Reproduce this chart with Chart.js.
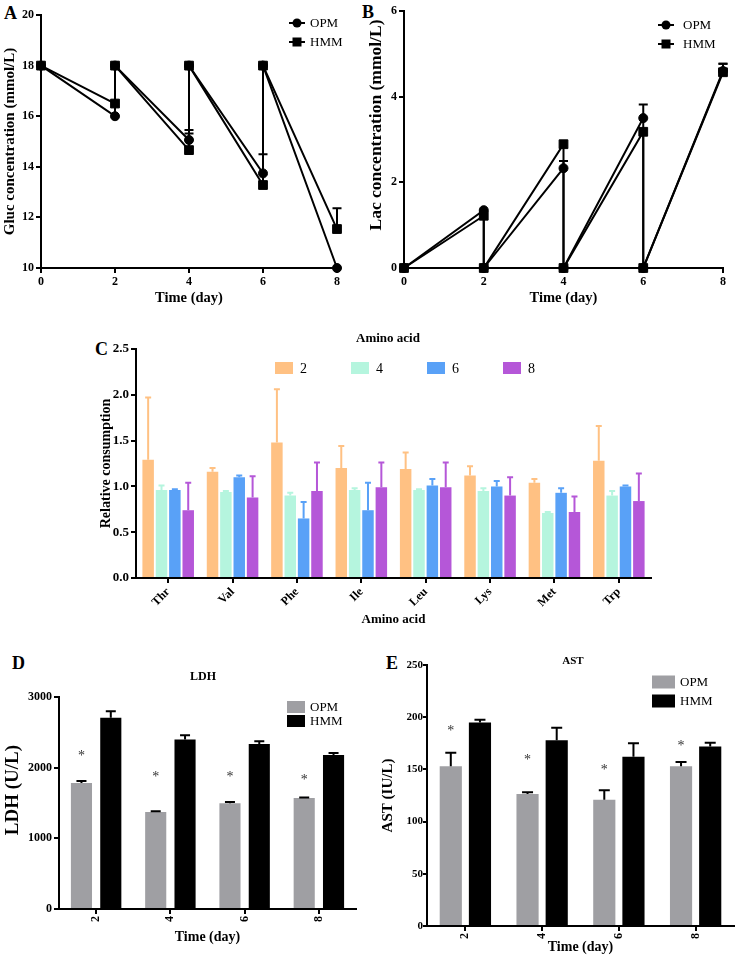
<!DOCTYPE html>
<html>
<head>
<meta charset="utf-8">
<script src="https://cdn.jsdelivr.net/npm/chart.js@4.4.0/dist/chart.umd.min.js"></script>
<style>
  body { margin: 0; background: #fff; width: 746px; height: 968px; position: relative; overflow: hidden; }
  canvas { position: absolute; }
  .tag { position: absolute; font: bold 18px "Liberation Serif", serif; line-height: 1; color: #000; }
</style>
</head>
<body>
<div class="tag" style="left:4px;top:4px">A</div>
<div class="tag" style="left:362px;top:3px">B</div>
<div class="tag" style="left:95px;top:340px">C</div>
<div class="tag" style="left:12px;top:654px">D</div>
<div class="tag" style="left:386px;top:654px">E</div>

<canvas id="chartA" width="373" height="310" style="left:0;top:0"></canvas>
<canvas id="chartB" width="381" height="310" style="left:365px;top:0"></canvas>
<canvas id="chartC" width="656" height="310" style="left:90px;top:320px"></canvas>
<canvas id="chartD" width="373" height="320" style="left:0;top:630px"></canvas>
<canvas id="chartE" width="373" height="338" style="left:373px;top:630px"></canvas>

<script>
// ---- data ----
// A / B: medium is replaced every 2 days, so each day appears twice
const days = [0, 2, 2, 4, 4, 6, 6, 8];
const glucOPM = [18, 16.0, 18, 15.06, 18, 13.74, 18, 10.0];
const glucHMM = [18, 16.5, 18, 14.66, 18, 13.28, 18, 11.54];
const glucOPMErr = [null, null, null, 0.39, null, 0.76, null, null];
const glucHMMErr = [null, null, null, 0.66, null, null, null, 0.82];

const lacOPM = [0, 1.35, 0, 2.33, 0, 3.5, 0, 4.6];
const lacHMM = [0, 1.22, 0, 2.89, 0, 3.18, 0, 4.57];
const lacOPMErr = [null, null, null, 0.17, null, 0.32, null, 0.17];
const lacHMMErr = [null, null, null, null, null, null, null, 0.2];

// C: amino acid consumption by day
const aminoAcids = ['Thr', 'Val', 'Phe', 'Ile', 'Leu', 'Lys', 'Met', 'Trp'];
const aaDays = ['2', '4', '6', '8'];
const aaDay2 = [1.29, 1.16, 1.48, 1.20, 1.19, 1.12, 1.04, 1.28];
const aaDay2Err = [0.68, 0.04, 0.58, 0.24, 0.18, 0.10, 0.04, 0.38];
const aaDay4 = [0.96, 0.94, 0.90, 0.96, 0.96, 0.95, 0.71, 0.90];
const aaDay4Err = [0.05, 0.01, 0.03, 0.02, 0.01, 0.03, 0.01, 0.05];
const aaDay6 = [0.96, 1.10, 0.65, 0.74, 1.01, 1.00, 0.93, 1.00];
const aaDay6Err = [0.01, 0.02, 0.18, 0.30, 0.07, 0.06, 0.05, 0.01];
const aaDay8 = [0.74, 0.88, 0.95, 0.99, 0.99, 0.90, 0.72, 0.84];
const aaDay8Err = [0.30, 0.23, 0.31, 0.27, 0.27, 0.20, 0.17, 0.30];

// D / E
const times = ['2', '4', '6', '8'];
const ldhOPM = [1782, 1372, 1495, 1570];
const ldhOPMErr = [30, 12, 20, 8];
const ldhHMM = [2705, 2400, 2335, 2180];
const ldhHMMErr = [95, 58, 40, 28];
const ldhStars = [2200, 1900, 1900, 1870];

const astOPM = [153, 126.5, 121, 153];
const astOPMErr = [13, 1.5, 9, 4];
const astHMM = [195, 178, 162, 172];
const astHMMErr = [2.5, 12, 13, 3.5];
const astStars = [189, 162, 152, 175];

// ---- colours ----
const gray = '#9f9fa3';
const aaColors = ['#ffc183', '#b5f5de', '#59a1f7', '#b557d8'];

Chart.defaults.font.family = '"Liberation Serif", serif';
Chart.defaults.color = '#000';

// ---- plugins ----
const errorBars = {
  id: 'errorBars',
  afterDatasetsDraw(chart, args, opts) {
    const ctx = chart.ctx;
    const yScale = chart.scales.y;
    chart.data.datasets.forEach((ds, i) => {
      if (!ds.errors) return;
      const meta = chart.getDatasetMeta(i);
      ctx.save();
      ctx.strokeStyle = ds.errorColor || ds.backgroundColor;
      ctx.lineWidth = opts.width || 2;
      meta.data.forEach((el, j) => {
        const err = ds.errors[j];
        if (err == null) return;
        const raw = ds.data[j];
        const v = typeof raw === 'object' ? raw.y : raw;
        const yTop = yScale.getPixelForValue(v + err);
        ctx.beginPath();
        ctx.moveTo(el.x, el.y);
        ctx.lineTo(el.x, yTop);
        ctx.moveTo(el.x - opts.cap / 2, yTop);
        ctx.lineTo(el.x + opts.cap / 2, yTop);
        ctx.stroke();
      });
      ctx.restore();
    });
  }
};

const stars = {
  id: 'stars',
  afterDatasetsDraw(chart) {
    const ctx = chart.ctx;
    chart.data.datasets.forEach((ds, i) => {
      if (!ds.stars) return;
      const meta = chart.getDatasetMeta(i);
      ctx.save();
      ctx.fillStyle = '#333';
      ctx.font = '14px "Liberation Serif"';
      ctx.textAlign = 'center';
      ctx.textBaseline = 'middle';
      meta.data.forEach((el, j) => {
        ctx.fillText('*', el.x, chart.scales.y.getPixelForValue(ds.stars[j]) + 3);
      });
      ctx.restore();
    });
  }
};

// free text: panel titles, and axis titles that sit off-centre in the original
const notes = {
  id: 'notes',
  afterDraw(chart, args, opts) {
    const ctx = chart.ctx;
    (opts.items || []).forEach(n => {
      ctx.save();
      ctx.fillStyle = '#000';
      ctx.textAlign = 'center';
      ctx.textBaseline = 'middle';
      ctx.font = 'bold ' + n.size + 'px "Liberation Serif"';
      ctx.translate(n.x, n.y);
      if (n.rot) ctx.rotate(n.rot * Math.PI / 180);
      ctx.fillText(n.text, 0, 0);
      ctx.restore();
    });
  }
};

const keyLegend = {
  id: 'keyLegend',
  afterDraw(chart, args, o) {
    const ctx = chart.ctx;
    ctx.save();
    chart.data.datasets.forEach((ds, i) => {
      const x = o.x + i * (o.dx || 0);
      const y = o.y + i * (o.dy || 0);
      if (o.kind === 'line') {
        ctx.strokeStyle = '#000';
        ctx.fillStyle = '#000';
        ctx.lineWidth = 2;
        ctx.beginPath();
        ctx.moveTo(x - 8, y);
        ctx.lineTo(x + 8, y);
        ctx.stroke();
        if (ds.pointStyle === 'rect') {
          ctx.fillRect(x - 4.5, y - 4.5, 9, 9);
        } else {
          ctx.beginPath();
          ctx.arc(x, y, 4.5, 0, Math.PI * 2);
          ctx.fill();
        }
      } else {
        ctx.fillStyle = ds.backgroundColor;
        ctx.fillRect(x, y - o.h / 2, o.w, o.h);
      }
      ctx.fillStyle = '#000';
      ctx.font = o.size + 'px "Liberation Serif"';
      ctx.textBaseline = 'middle';
      ctx.fillText(ds.label, x + o.tx, y + 1);
    });
    ctx.restore();
  }
};

// axis helper: black 2px axis lines with outside ticks, no grid
function makeAxis(o) {
  const ax = {
    afterFit: s => {
      if (o.width) s.width = o.width;
      if (o.height) s.height = o.height;
    },
    border: { color: '#000', width: 2 },
    grid: { drawOnChartArea: false, color: '#000', lineWidth: 2, tickLength: o.tl || 5, offset: false },
    ticks: {
      color: '#000', padding: o.pad == null ? 2 : o.pad, autoSkip: false,
      font: { size: o.fs || 12, weight: 'bold' },
      minRotation: o.rot || 0, maxRotation: o.rot || 0
    },
    title: {
      display: !!o.title, text: o.title || '', color: '#000',
      font: { size: o.tsize || 13, weight: 'bold' }, padding: o.tpad
    }
  };
  if (o.type) ax.type = o.type;
  if (o.min != null) { ax.min = o.min; ax.max = o.max; }
  if (o.step) ax.ticks.stepSize = o.step;
  if (o.fmt) ax.ticks.callback = o.fmt;
  return ax;
}

function pts(xs, ys) {
  return xs.map((x, i) => ({ x: x, y: ys[i] }));
}

function lineSet(label, ys, errs, style, order) {
  return {
    label: label,
    data: pts(days, ys),
    errors: errs,
    errorColor: '#000',
    borderColor: '#000',
    backgroundColor: '#000',
    borderWidth: 2,
    pointStyle: style,
    pointRadius: style === 'rect' ? 6.2 : 4.5,
    pointBorderWidth: 1,
    clip: false,
    order: order
  };
}

const base = { responsive: false, animation: false, devicePixelRatio: 1 };

// ---- A: glucose ----
new Chart(document.getElementById('chartA'), {
  type: 'line',
  data: { datasets: [
    lineSet('OPM', glucOPM, glucOPMErr, 'circle', 1),
    lineSet('HMM', glucHMM, glucHMMErr, 'rect', 0)
  ] },
  options: Object.assign({}, base, {
    layout: { padding: { top: 15, right: 36, left: 0, bottom: 0 } },
    scales: {
      x: makeAxis({ type: 'linear', min: 0, max: 8, step: 2, height: 42, title: 'Time (day)', tsize: 14.5, tpad: { top: 0, bottom: 3 } }),
      y: makeAxis({ min: 10, max: 20, step: 2, width: 41, title: 'Gluc concentration (mmol/L)', tsize: 15, tpad: { top: 1, bottom: 0 } })
    },
    plugins: {
      legend: { display: false }, tooltip: { enabled: false },
      errorBars: { cap: 9, width: 2 },
      keyLegend: { kind: 'line', x: 297, y: 23, dy: 19, tx: 13, size: 13 }
    }
  }),
  plugins: [errorBars, keyLegend]
});

// ---- B: lactate ----
new Chart(document.getElementById('chartB'), {
  type: 'line',
  data: { datasets: [
    lineSet('OPM', lacOPM, lacOPMErr, 'circle', 1),
    lineSet('HMM', lacHMM, lacHMMErr, 'rect', 0)
  ] },
  options: Object.assign({}, base, {
    layout: { padding: { top: 11, right: 23, left: 0, bottom: 0 } },
    scales: {
      x: makeAxis({ type: 'linear', min: 0, max: 8, step: 2, height: 42, title: 'Time (day)', tsize: 14.5, tpad: { top: 0, bottom: 3 } }),
      y: makeAxis({ min: 0, max: 6, step: 2, width: 39 })
    },
    plugins: {
      legend: { display: false }, tooltip: { enabled: false },
      errorBars: { cap: 9, width: 2 },
      keyLegend: { kind: 'line', x: 301, y: 25, dy: 19, tx: 17, size: 13 },
      notes: { items: [{ text: 'Lac concentration (mmol/L)', x: 11, y: 125, size: 17.5, rot: -90 }] }
    }
  }),
  plugins: [errorBars, keyLegend, notes]
});

// ---- C: amino acids ----
const aaValues = [aaDay2, aaDay4, aaDay6, aaDay8];
const aaErrors = [aaDay2Err, aaDay4Err, aaDay6Err, aaDay8Err];
new Chart(document.getElementById('chartC'), {
  type: 'bar',
  data: {
    labels: aminoAcids,
    datasets: aaDays.map((d, i) => ({
      label: d,
      data: aaValues[i],
      errors: aaErrors[i],
      backgroundColor: aaColors[i],
      categoryPercentage: 0.83,
      barPercentage: 0.86
    }))
  },
  options: Object.assign({}, base, {
    layout: { padding: { top: 29, right: 95, left: 0, bottom: 0 } },
    scales: {
      x: makeAxis({ height: 52, rot: 45, title: 'Amino acid', tpad: { top: 0, bottom: 3 } }),
      y: makeAxis({ min: 0, max: 2.5, step: 0.5, width: 46, fs: 13, title: 'Relative consumption', tsize: 14, tpad: { top: 8, bottom: 0 }, fmt: v => v.toFixed(1) })
    },
    plugins: {
      legend: { display: false }, tooltip: { enabled: false },
      errorBars: { cap: 6, width: 2 },
      keyLegend: { kind: 'box', x: 185, y: 48, dx: 76, w: 18, h: 12, tx: 25, size: 14 },
      notes: { items: [{ text: 'Amino acid', x: 298, y: 19, size: 13 }] }
    }
  }),
  plugins: [errorBars, keyLegend, notes]
});

// ---- D: LDH ----
function pairSets(opm, opmErr, hmm, hmmErr, sig, cp, bp) {
  return [
    { label: 'OPM', data: opm, errors: opmErr, errorColor: '#000', backgroundColor: gray, stars: sig, categoryPercentage: cp, barPercentage: bp },
    { label: 'HMM', data: hmm, errors: hmmErr, errorColor: '#000', backgroundColor: '#000', categoryPercentage: cp, barPercentage: bp }
  ];
}

new Chart(document.getElementById('chartD'), {
  type: 'bar',
  data: { labels: times, datasets: pairSets(ldhOPM, ldhOPMErr, ldhHMM, ldhHMMErr, ldhStars, 0.79, 0.72) },
  options: Object.assign({}, base, {
    layout: { padding: { top: 67, right: 17, left: 0, bottom: 0 } },
    scales: {
      x: makeAxis({ height: 41, rot: 90, title: 'Time (day)', tsize: 14, tpad: { top: 0, bottom: 4 } }),
      y: makeAxis({ min: 0, max: 3000, step: 1000, width: 59, fmt: v => String(v) })
    },
    plugins: {
      legend: { display: false }, tooltip: { enabled: false },
      errorBars: { cap: 10, width: 2 },
      keyLegend: { kind: 'box', x: 287, y: 77, dy: 14, w: 18, h: 12, tx: 23, size: 13 },
      notes: { items: [
        { text: 'LDH', x: 203, y: 47, size: 12 },
        { text: 'LDH (U/L)', x: 13, y: 160, size: 19, rot: -90 }
      ] }
    }
  }),
  plugins: [errorBars, stars, keyLegend, notes]
});

// ---- E: AST ----
new Chart(document.getElementById('chartE'), {
  type: 'bar',
  data: { labels: times, datasets: pairSets(astOPM, astOPMErr, astHMM, astHMMErr, astStars, 0.76, 0.76) },
  options: Object.assign({}, base, {
    layout: { padding: { top: 35, right: 12, left: 0, bottom: 0 } },
    scales: {
      x: makeAxis({ height: 42, rot: 90, title: 'Time (day)', tsize: 14, tpad: { top: 0, bottom: 12 } }),
      y: makeAxis({ min: 0, max: 250, step: 50, width: 54, tl: 4, pad: 0, fs: 11, title: 'AST (IU/L)', tsize: 15, tpad: { top: 6, bottom: 0 } })
    },
    plugins: {
      legend: { display: false }, tooltip: { enabled: false },
      errorBars: { cap: 11, width: 2 },
      keyLegend: { kind: 'box', x: 279, y: 52, dy: 19, w: 23, h: 13, tx: 28, size: 13 },
      notes: { items: [{ text: 'AST', x: 200, y: 31, size: 11 }] }
    }
  }),
  plugins: [errorBars, stars, keyLegend, notes]
});
</script>
</body>
</html>
